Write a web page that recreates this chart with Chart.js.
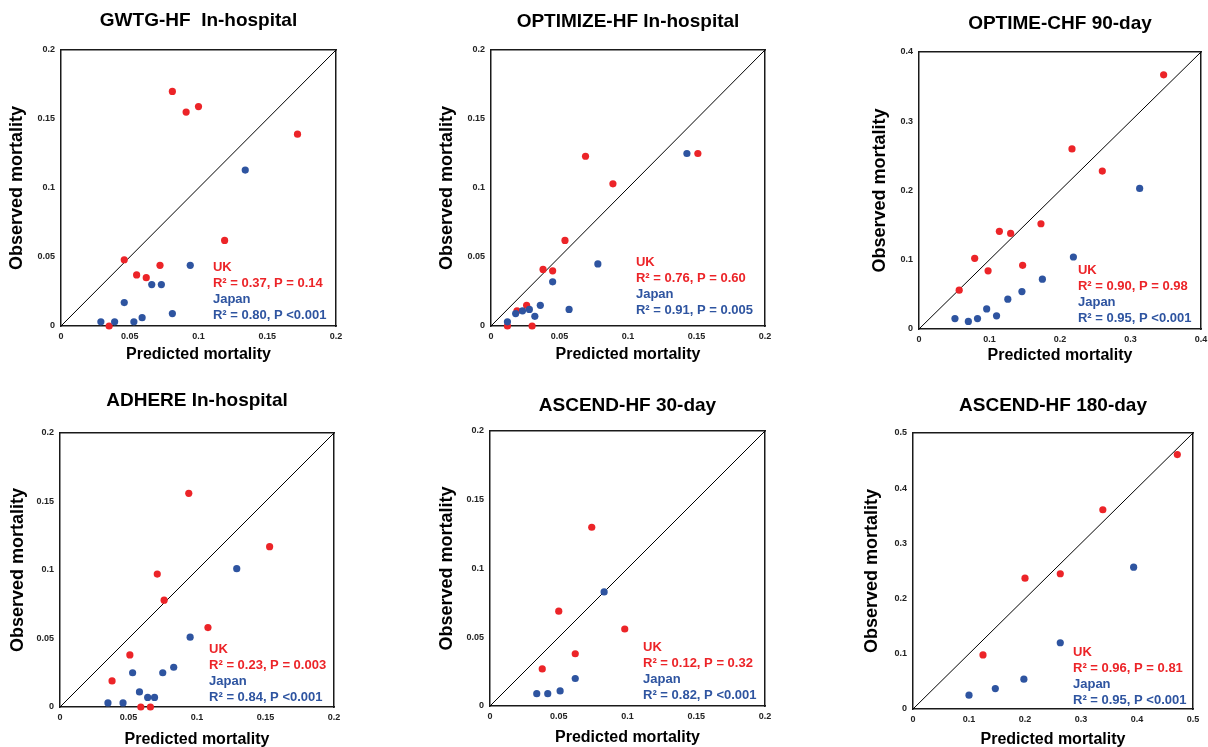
<!DOCTYPE html>
<html>
<head>
<meta charset="utf-8">
<script src="https://cdn.jsdelivr.net/npm/chart.js@4.4.1/dist/chart.umd.min.js"></script>
<style>
  html, body { margin: 0; padding: 0; background: #fff; width: 1208px; height: 747px; overflow: hidden; }
  canvas { position: absolute; }
</style>
</head>
<body>
<script>
const titles = ['GWTG-HF  In-hospital', 'OPTIMIZE-HF In-hospital', 'OPTIME-CHF 90-day',
                'ADHERE In-hospital', 'ASCEND-HF 30-day', 'ASCEND-HF 180-day'];
const axisMax  = [0.2, 0.2, 0.4, 0.2, 0.2, 0.5];
const axisStep = [0.05, 0.05, 0.1, 0.05, 0.05, 0.1];
const ukStats = ['R\u00b2 = 0.37, P = 0.14', 'R\u00b2 = 0.76, P = 0.60', 'R\u00b2 = 0.90, P = 0.98',
                 'R\u00b2 = 0.23, P = 0.003', 'R\u00b2 = 0.12, P = 0.32', 'R\u00b2 = 0.96, P = 0.81'];
const jpStats = ['R\u00b2 = 0.80, P <0.001', 'R\u00b2 = 0.91, P = 0.005', 'R\u00b2 = 0.95, P <0.001',
                 'R\u00b2 = 0.84, P <0.001', 'R\u00b2 = 0.82, P <0.001', 'R\u00b2 = 0.95, P <0.001'];

// GWTG-HF in-hospital
const gwtgUkPred = [0.081, 0.091, 0.100, 0.172, 0.119, 0.046, 0.055, 0.062, 0.072, 0.035];
const gwtgUkObs  = [0.170, 0.155, 0.159, 0.139, 0.062, 0.048, 0.037, 0.035, 0.044, 0.000];
const gwtgJpPred = [0.134, 0.094, 0.066, 0.073, 0.046, 0.081, 0.059, 0.053, 0.039, 0.029];
const gwtgJpObs  = [0.113, 0.044, 0.030, 0.030, 0.017, 0.009, 0.006, 0.003, 0.003, 0.003];
// OPTIMIZE-HF in-hospital
const optimizeUkPred = [0.069, 0.089, 0.151, 0.054, 0.038, 0.045, 0.026, 0.019, 0.012, 0.030];
const optimizeUkObs  = [0.123, 0.103, 0.125, 0.062, 0.041, 0.040, 0.015, 0.011, 0.000, 0.000];
const optimizeJpPred = [0.143, 0.078, 0.045, 0.036, 0.057, 0.028, 0.023, 0.018, 0.032, 0.012];
const optimizeJpObs  = [0.125, 0.045, 0.032, 0.015, 0.012, 0.012, 0.011, 0.009, 0.007, 0.003];
// OPTIME-CHF 90-day
const optimeUkPred = [0.347, 0.217, 0.260, 0.173, 0.114, 0.130, 0.079, 0.098, 0.147, 0.057];
const optimeUkObs  = [0.367, 0.260, 0.228, 0.152, 0.141, 0.138, 0.102, 0.084, 0.092, 0.056];
const optimeJpPred = [0.313, 0.219, 0.175, 0.146, 0.126, 0.096, 0.110, 0.083, 0.051, 0.070];
const optimeJpObs  = [0.203, 0.104, 0.072, 0.054, 0.043, 0.029, 0.019, 0.015, 0.015, 0.011];
// ADHERE in-hospital
const adhereUkPred = [0.094, 0.153, 0.071, 0.076, 0.108, 0.051, 0.038, 0.059, 0.066];
const adhereUkObs  = [0.156, 0.117, 0.097, 0.078, 0.058, 0.038, 0.019, 0.000, 0.000];
const adhereJpPred = [0.129, 0.095, 0.083, 0.075, 0.053, 0.058, 0.064, 0.069, 0.035, 0.046];
const adhereJpObs  = [0.101, 0.051, 0.029, 0.025, 0.025, 0.011, 0.007, 0.007, 0.003, 0.003];
// ASCEND-HF 30-day
const ascend30UkPred = [0.074, 0.050, 0.098, 0.062, 0.038];
const ascend30UkObs  = [0.130, 0.069, 0.056, 0.038, 0.027];
const ascend30JpPred = [0.083, 0.062, 0.051, 0.034, 0.042];
const ascend30JpObs  = [0.083, 0.020, 0.011, 0.009, 0.009];
// ASCEND-HF 180-day
const ascend180UkPred = [0.472, 0.339, 0.200, 0.263, 0.125];
const ascend180UkObs  = [0.461, 0.361, 0.237, 0.245, 0.098];
const ascend180JpPred = [0.394, 0.263, 0.198, 0.147, 0.100];
const ascend180JpObs  = [0.257, 0.120, 0.054, 0.037, 0.025];

const ukPred = [gwtgUkPred, optimizeUkPred, optimeUkPred, adhereUkPred, ascend30UkPred, ascend180UkPred];
const ukObs  = [gwtgUkObs, optimizeUkObs, optimeUkObs, adhereUkObs, ascend30UkObs, ascend180UkObs];
const jpPred = [gwtgJpPred, optimizeJpPred, optimeJpPred, adhereJpPred, ascend30JpPred, ascend180JpPred];
const jpObs  = [gwtgJpObs, optimizeJpObs, optimeJpObs, adhereJpObs, ascend30JpObs, ascend180JpObs];

const RED = 'rgb(236,36,40)';
const BLUE = 'rgb(46,84,160)';
const FONT = '"Liberation Sans", Arial, sans-serif';

// where each panel sits on the page (plot box + title/label centres)
const boxes = [
  {L: 61,  T: 50,  R: 336,  B: 326, titleY: 21,  yTitleX: 17,  xTitleY: 355, noteX: 0.1105, noteY: 0.0428},
  {L: 491, T: 50,  R: 765,  B: 326, titleY: 22,  yTitleX: 447, xTitleY: 355, noteX: 0.1058, noteY: 0.0464},
  {L: 919, T: 52,  R: 1201, B: 329, titleY: 24,  yTitleX: 880, xTitleY: 356, noteX: 0.2255, noteY: 0.0852},
  {L: 60,  T: 433, R: 334,  B: 707, titleY: 401, yTitleX: 18,  xTitleY: 740, noteX: 0.1088, noteY: 0.0423},
  {L: 490, T: 431, R: 765,  B: 706, titleY: 406, yTitleX: 447, xTitleY: 738, noteX: 0.1113, noteY: 0.0429},
  {L: 913, T: 433, R: 1193, B: 709, titleY: 406, yTitleX: 872, xTitleY: 740, noteX: 0.2857, noteY: 0.1033}
];
const PAD_R = 14;

const pts = (xs, ys) => xs.map((x, i) => ({x: x, y: ys[i]}));

const notePlugin = {
  id: 'notes',
  afterDatasetsDraw(chart, args, opts) {
    const ctx = chart.ctx;
    const x = chart.scales.x.getPixelForValue(opts.x);
    const y = chart.scales.y.getPixelForValue(opts.y);
    ctx.save();
    ctx.font = 'bold 13px ' + FONT;
    ctx.textAlign = 'left';
    ctx.textBaseline = 'middle';
    opts.lines.forEach((t, i) => {
      ctx.fillStyle = i < 2 ? RED : BLUE;
      ctx.fillText(t, x, y + i * 16);
    });
    ctx.restore();
  }
};

boxes.forEach((b, i) => {
  const cl = b.yTitleX - 17, ct = b.titleY - 21, cr = b.R + PAD_R, cb = b.xTitleY + 17;
  const canvas = document.createElement('canvas');
  canvas.width = cr - cl;
  canvas.height = cb - ct;
  canvas.style.left = cl + 'px';
  canvas.style.top = ct + 'px';
  document.body.appendChild(canvas);

  const yW = b.L - cl, xH = cb - b.B;
  const max = axisMax[i];
  const tickOpts = {
    stepSize: axisStep[i],
    color: '#222',
    padding: 6,
    font: {family: FONT, size: 9, weight: 'bold'},
    callback: v => String(+v.toFixed(2))
  };
  const hidden = {min: 0, max: max, ticks: {display: false}, grid: {display: false, drawTicks: false},
                  border: {display: true, color: '#1a1a1a', width: 1.5}};

  new Chart(canvas, {
    type: 'scatter',
    data: {
      datasets: [
        {data: pts(ukPred[i], ukObs[i]), backgroundColor: RED, borderWidth: 0, pointRadius: 3.6, clip: false, order: 1},
        {data: pts(jpPred[i], jpObs[i]), backgroundColor: BLUE, borderWidth: 0, pointRadius: 3.6, clip: false, order: 0},
        {data: [{x: 0, y: 0}, {x: max, y: max}], showLine: true, borderColor: '#000', borderWidth: 1,
         pointRadius: 0, order: 5}
      ]
    },
    options: {
      responsive: false,
      animation: false,
      layout: {padding: {left: 0, top: 0, right: PAD_R, bottom: 0}},
      scales: {
        x: {
          type: 'linear', position: 'bottom', min: 0, max: max,
          grid: {display: false, drawTicks: false},
          border: {display: true, color: '#1a1a1a', width: 1.5},
          ticks: Object.assign({}, tickOpts, {padding: 5, maxRotation: 0}),
          title: {display: true, text: 'Predicted mortality', color: '#000',
                  font: {family: FONT, size: 16, weight: 'bold'}, padding: {top: 0, bottom: 7.4}},
          afterFit: s => { s.height = xH; }
        },
        y: {
          type: 'linear', position: 'left', min: 0, max: max,
          grid: {display: false, drawTicks: false},
          border: {display: true, color: '#1a1a1a', width: 1.5},
          ticks: tickOpts,
          title: {display: true, text: 'Observed mortality', color: '#000',
                  font: {family: FONT, size: 18, weight: 'bold'}, padding: {top: 6.2, bottom: 0}},
          afterFit: s => { s.width = yW; }
        },
        x2: Object.assign({type: 'linear', position: 'top'}, hidden),
        y2: Object.assign({type: 'linear', position: 'right'}, hidden)
      },
      plugins: {
        legend: {display: false},
        tooltip: {enabled: false},
        title: {
          display: true, text: titles[i], color: '#000', fullSize: false,
          font: {family: FONT, size: 19, weight: 'bold', lineHeight: 1.2},
          padding: {top: 9.6, bottom: (b.T - ct) - 9.6 - 22.8}
        },
        notes: {x: b.noteX, y: b.noteY, lines: ['UK', ukStats[i], 'Japan', jpStats[i]]}
      }
    },
    plugins: [notePlugin]
  });
});
</script>
</body>
</html>
